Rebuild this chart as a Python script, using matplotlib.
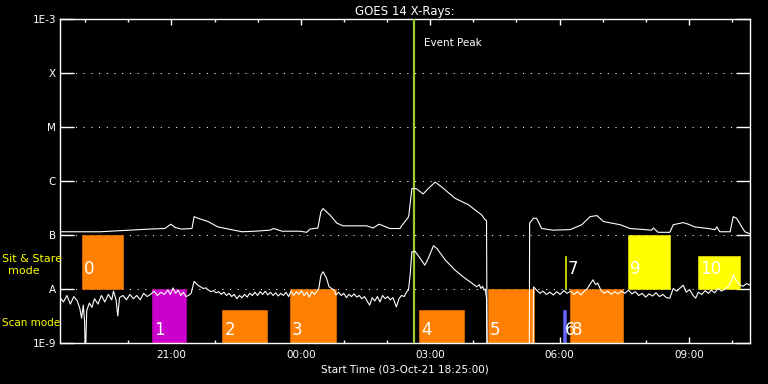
import numpy as np
import matplotlib
matplotlib.use('Agg')
import matplotlib.pyplot as plt
import matplotlib.dates as mdates
from datetime import datetime

# inicio do grafico e pico do evento (horas depois do inicio)
start = datetime(2021, 10, 3, 18, 25)
span_h = 16.0
event_peak_h = 8.20

# canal longo (1-8 A): horas, log10 do fluxo (-10 = sem dados)
long_t = [0.00, 0.93, 2.09, 2.43, 2.57, 2.67, 2.81, 3.06, 3.11, 3.20, 3.43, 3.66,
          4.22, 4.52, 4.87, 4.96, 5.15, 5.57, 5.72, 5.80, 5.98, 6.05, 6.10, 6.26,
          6.42, 6.56, 6.88, 7.11, 7.26, 7.40, 7.65, 7.88, 7.95, 8.07, 8.09, 8.16,
          8.26, 8.42, 8.54, 8.70, 8.85, 9.16, 9.47, 9.78, 9.86, 9.89, 9.91, 10.88,
          10.89, 10.98, 11.05, 11.17, 11.43, 11.83, 12.10, 12.29, 12.45, 12.60,
          12.99, 13.22, 13.72, 13.76, 13.87, 14.14, 14.22, 14.45, 14.57, 14.72,
          15.03, 15.19, 15.23, 15.30, 15.54, 15.61, 15.69, 15.81, 15.88, 16.00]
long_logf = [-6.94, -6.94, -6.89, -6.88, -6.80, -6.86, -6.89, -6.88, -6.66, -6.69, -6.75, -6.85,
             -6.94, -6.93, -6.91, -6.88, -6.93, -6.93, -6.95, -6.89, -6.87, -6.57, -6.51, -6.63,
             -6.78, -6.83, -6.83, -6.83, -6.87, -6.80, -6.88, -6.88, -6.80, -6.68, -6.63, -6.14,
             -6.14, -6.24, -6.14, -6.02, -6.11, -6.32, -6.44, -6.63, -6.72, -6.73, -10.0, -10.0,
             -6.78, -6.69, -6.69, -6.88, -6.91, -6.90, -6.81, -6.66, -6.64, -6.75,
             -6.81, -6.88, -6.91, -6.87, -6.95, -6.95, -6.81, -6.77, -6.80, -6.85,
             -6.88, -6.90, -6.85, -6.94, -6.94, -6.66, -6.69, -6.85, -6.94, -6.98]

# canal curto (0.5-4 A)
short_t = [0.00, 0.08, 0.16, 0.24, 0.32, 0.40, 0.46, 0.50, 0.54, 0.57, 0.58, 0.60, 0.62,
           0.68, 0.74, 0.80, 0.88, 0.96, 1.04, 1.12, 1.20, 1.24, 1.30, 1.34, 1.38, 1.46,
           1.54, 1.62, 1.70, 1.78, 1.86, 1.94, 2.02, 2.10, 2.18, 2.26, 2.34, 2.42, 2.50,
           2.56, 2.62, 2.68, 2.74, 2.80, 2.86, 2.92, 2.98, 3.04, 3.11, 3.16, 3.20, 3.26,
           3.32, 3.38, 3.44, 3.50, 3.56, 3.62, 3.68, 3.74, 3.80, 3.86, 3.92, 3.98, 4.04,
           4.10, 4.16, 4.22, 4.28, 4.34, 4.40, 4.46, 4.52, 4.58, 4.64, 4.70, 4.76, 4.82,
           4.88, 4.94, 5.00, 5.06, 5.12, 5.18, 5.24, 5.30, 5.36, 5.42, 5.48, 5.54, 5.60,
           5.66, 5.72, 5.78, 5.84, 5.90, 5.96, 6.00, 6.05, 6.10, 6.18, 6.24, 6.30, 6.36,
           6.40, 6.46, 6.52, 6.58, 6.64, 6.70, 6.76, 6.82, 6.88, 6.94, 7.00, 7.06, 7.18,
           7.24, 7.30, 7.36, 7.42, 7.48, 7.54, 7.60, 7.66, 7.72, 7.80, 7.86, 7.92, 7.98,
           8.05, 8.08, 8.12, 8.16, 8.23, 8.35, 8.46, 8.54, 8.66, 8.74, 8.93, 9.16, 9.39,
           9.55, 9.66, 9.72, 9.76, 9.80, 9.83, 9.86, 9.89, 9.91, 10.97, 10.98, 11.05,
           11.13, 11.20, 11.28, 11.36, 11.44, 11.52, 11.60, 11.68, 11.76, 11.84, 11.92,
           12.00, 12.08, 12.16, 12.23, 12.30, 12.36, 12.42, 12.47, 12.54, 12.62, 12.70,
           12.78, 12.86, 12.94, 13.02, 13.10, 13.18, 13.26, 13.34, 13.42, 13.50, 13.58,
           13.66, 13.74, 13.82, 13.90, 13.98, 14.06, 14.14, 14.22, 14.30, 14.38, 14.45,
           14.52, 14.60, 14.68, 14.74, 14.80, 14.88, 14.96, 15.04, 15.10, 15.18, 15.26,
           15.34, 15.42, 15.50, 15.57, 15.61, 15.69, 15.76, 15.84, 15.92, 16.00]
short_logf = [-8.16, -8.24, -8.12, -8.28, -8.14, -8.22, -8.36, -8.54, -8.30, -8.60, -9.00, -8.98, -8.40,
              -8.26, -8.34, -8.18, -8.28, -8.12, -8.24, -8.10, -8.20, -8.04, -8.20, -8.50, -8.16, -8.12,
              -8.20, -8.10, -8.18, -8.12, -8.20, -8.08, -8.14, -8.10, -8.04, -8.12, -8.06, -8.10, -8.02,
              -8.10, -7.98, -8.08, -8.02, -8.12, -8.06, -8.14, -8.12, -8.08, -7.86, -7.90, -7.93, -7.96,
              -7.99, -7.98, -8.02, -8.05, -8.03, -8.07, -8.05, -8.10, -8.06, -8.12, -8.08, -8.14, -8.10,
              -8.18, -8.12, -8.16, -8.10, -8.15, -8.08, -8.12, -8.06, -8.12, -8.05, -8.10, -8.04, -8.11,
              -8.06, -8.12, -8.07, -8.13, -8.08, -8.12, -8.06, -8.14, -8.04, -8.12, -8.05, -8.10, -8.03,
              -8.12, -8.06, -8.15, -8.05, -8.10, -8.04, -7.99, -7.75, -7.68, -7.80, -7.96, -7.99, -8.02,
              -8.11, -8.06, -8.12, -8.08, -8.16, -8.10, -8.14, -8.09, -8.15, -8.12, -8.18, -8.14, -8.30,
              -8.16, -8.22, -8.14, -8.24, -8.12, -8.18, -8.14, -8.20, -8.16, -8.33, -8.18, -8.12, -8.14,
              -8.04, -8.02, -7.74, -7.31, -7.30, -7.43, -7.56, -7.43, -7.20, -7.25, -7.46, -7.65, -7.80,
              -7.89, -7.96, -7.92, -7.99, -7.95, -8.02, -8.00, -8.17, -10.0, -10.0, -7.96, -8.02,
              -8.08, -8.04, -8.10, -8.06, -8.11, -8.05, -8.10, -8.03, -8.08, -8.04, -8.10,
              -8.05, -8.11, -8.04, -7.99, -7.90, -7.83, -7.92, -7.89, -8.02, -8.08, -8.04,
              -8.10, -8.05, -8.09, -8.04, -8.08, -8.02, -8.09, -8.05, -8.12, -8.08, -8.15,
              -8.09, -8.13, -8.07, -8.14, -8.10, -8.16, -8.17, -7.99, -8.04, -7.98, -7.93,
              -8.06, -8.01, -8.12, -8.17, -8.06, -8.10, -8.03, -8.08, -8.02, -8.07, -7.99,
              -8.04, -8.00, -7.95, -7.85, -7.74, -7.86, -7.92, -7.95, -7.90, -7.93]

# observacoes (horas depois do inicio)
obs_start = [0.51, 2.13, 3.76, 5.33, 8.32, 9.92, 11.66, 11.71, 11.83, 13.17, 14.79]
obs_end = [1.45, 2.92, 4.80, 6.40, 9.37, 10.99, 11.73, 11.73, 13.06, 14.14, 15.77]
obs_mode = ['sit', 'scan', 'scan', 'scan', 'scan', 'scan', 'scan', 'sit', 'scan', 'sit', 'sit']
obs_full = [True, True, False, True, False, True, False, False, True, True, False]
obs_color = ['#ff8000', '#cc00cc', '#ff8000', '#ff8000', '#ff8000', '#ff8000',
             '#6464ff', '#ffff00', '#ff8000', '#ffff00', '#ffff00']

level_values = [1e-9, 1e-8, 1e-7, 1e-6, 1e-5, 1e-4, 1e-3]
level_labels = ['1E-9', 'A', 'B', 'C', 'M', 'X', '1E-3']

t0 = mdates.date2num(start)


def to_x(h):
    return t0 + np.asarray(h, dtype=float) / 24.0


plt.rcParams['font.family'] = 'DejaVu Sans'
fig = plt.figure(figsize=(7.68, 3.84), dpi=100, facecolor='black')
ax = fig.add_axes([60 / 768, 41 / 384, 690 / 768, 324 / 384], facecolor='black')
ax.set_yscale('log')
ax.set_ylim(1e-9, 1e-3)
ax.set_xlim(to_x(0), to_x(span_h))

# linhas pontilhadas nos niveis
for lv in level_values[1:-1]:
    ax.axhline(lv, color='white', lw=0.75, linestyle=(0, (1, 6.4)), zorder=1)

# caixas das observacoes (a de largura zero vira um traco)
for s, e, m, full, c in zip(obs_start, obs_end, obs_mode, obs_full, obs_color):
    base = 1e-9 if m == 'scan' else 1e-8
    top = base * (10 if full else 10 ** 0.61)
    ax.bar(to_x(s), top - base, width=(e - s) / 24.0, bottom=base, align='edge',
           color=c, edgecolor=c, linewidth=0.4, zorder=2)

for i, (s, m) in enumerate(zip(obs_start, obs_mode)):
    ylab = 10 ** -8.93 if m == 'scan' else 10 ** -7.80
    ax.text(to_x(s + 0.05), ylab, str(i), color='white', fontsize=12,
            ha='left', va='bottom', zorder=5)

# curvas GOES
ax.plot(to_x(long_t), 10 ** np.array(long_logf), color='white', lw=0.8, zorder=4)
ax.plot(to_x(short_t), 10 ** np.array(short_logf), color='white', lw=0.8, zorder=4)

# pico do evento
ax.axvline(to_x(event_peak_h), color='#9acd32', lw=1.6, zorder=3)
ax.text(to_x(event_peak_h + 0.25), 10 ** -3.45, 'Event Peak', color='white',
        fontsize=7.5, ha='left', va='center')

# eixos
for sp in ax.spines.values():
    sp.set_color('white')
    sp.set_linewidth(1)
ax.set_yticks(level_values)
ax.set_yticklabels(level_labels)
ax.yaxis.set_minor_locator(matplotlib.ticker.NullLocator())
ax.xaxis.set_major_locator(mdates.HourLocator(byhour=range(0, 24, 3)))
ax.xaxis.set_minor_locator(mdates.HourLocator())
ax.xaxis.set_major_formatter(mdates.DateFormatter('%H:%M'))
ax.tick_params(axis='y', which='major', direction='in', length=10, width=1,
               colors='white', labelsize=7.5, right=True, pad=3)
ax.tick_params(axis='x', which='major', direction='in', length=4.5, width=1,
               colors='white', labelsize=7.5, top=True, pad=5)
ax.tick_params(axis='x', which='minor', direction='in', length=2.5, width=1,
               colors='white', top=True)

ax.set_title('GOES 14 X-Rays:', color='white', fontsize=8.5, pad=3)
ax.set_xlabel('Start Time (03-Oct-21 18:25:00)', color='white', fontsize=7.5, labelpad=3)

fig.text(2 / 768, 1 - 259 / 384, 'Sit & Stare', color='yellow', fontsize=8,
         ha='left', va='center')
fig.text(24 / 768, 1 - 271 / 384, 'mode', color='yellow', fontsize=8,
         ha='center', va='center')
fig.text(2 / 768, 1 - 323 / 384, 'Scan mode', color='yellow', fontsize=7.5,
         ha='left', va='center')

fig.savefig('out.png', dpi=100, facecolor='black')
